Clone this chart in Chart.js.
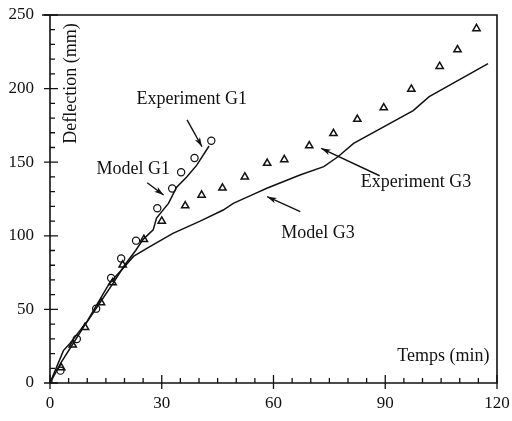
<!DOCTYPE html>
<html>
<head>
<meta charset="utf-8">
<script src="https://cdn.jsdelivr.net/npm/chart.js@4.4.1/dist/chart.umd.min.js"></script>
<style>
  html, body { margin: 0; padding: 0; background: #fff; }
  #wrap { width: 512px; height: 421px; }
</style>
</head>
<body>
<div id="wrap"><canvas id="deflChart"></canvas></div>
<script>
// time in minutes, deflection in mm
var expG1Time = [2.8, 7.2, 12.4, 16.4, 19.1, 23.1, 28.8, 32.8, 35.2, 38.8, 43.3];
var expG1Defl = [8.4, 29.9, 50.5, 71.3, 84.6, 96.7, 118.7, 132.1, 143.2, 152.9, 164.6];

var expG3Time = [3.0, 6.1, 9.4, 13.7, 16.8, 19.5, 25.2, 30.0, 36.3, 40.7, 46.3, 52.3, 58.3, 62.9, 69.6, 76.1, 82.5, 89.6, 97.0, 104.6, 109.4, 114.5];
var expG3Defl = [10.4, 25.8, 37.8, 54.6, 68.1, 80.2, 97.6, 110.0, 120.4, 127.7, 132.5, 140.0, 149.3, 151.8, 161.2, 169.5, 179.2, 187.0, 199.6, 215.1, 226.4, 240.8];

var modelG1Time = [0, 3, 6, 9, 13, 17, 20, 23, 25, 27.7, 28.6, 31.8, 34, 36.7, 39.4, 42.7];
var modelG1Defl = [0, 14, 26, 38, 53, 68, 80, 90, 97.6, 104, 112, 122, 133, 140, 148, 161];

var modelG3Time = [0, 3.6, 5.4, 10, 16, 20, 22.4, 26, 33, 40.3, 46.5, 49.2, 55.3, 58.2, 67.1, 73.5, 77.3, 81.5, 97.5, 101.8, 117.6];
var modelG3Defl = [0, 22, 27, 42, 68, 79, 86, 91.5, 101.7, 110, 117.5, 122, 129, 132.3, 141.3, 147, 153.7, 162.8, 185, 194.5, 217];

var xTickLabels = [0, 30, 60, 90, 120];
var yTickLabels = [0, 50, 100, 150, 200, 250];

var serif = "'Liberation Serif', 'Times New Roman', serif";

function toPoints(xs, ys) {
    return xs.map(function (x, i) { return { x: x, y: ys[i] }; });
}

// text + arrows, placed in data units
var notes = [
    { text: 'Experiment G1', x: 23.2, y: 193, align: 'left' },
    { text: 'Model G1', x: 12.5, y: 145.4, align: 'left' },
    { text: 'Experiment G3', x: 83.4, y: 136.3, align: 'left' },
    { text: 'Model G3', x: 62.1, y: 101.7, align: 'left' },
    { text: 'Temps (min)', x: 118, y: 18.5, align: 'right' }
];
var arrows = [
    { x1: 36.8, y1: 178.7, x2: 40.8, y2: 160.5 },
    { x1: 26.1, y1: 136, x2: 30.5, y2: 127.7 },
    { x1: 88.5, y1: 140.8, x2: 72.8, y2: 159.4 },
    { x1: 67.2, y1: 116.4, x2: 58.3, y2: 126.6 }
];

function noOverhang(s) {
    s.paddingLeft = 0; s.paddingRight = 0;
    s.paddingTop = 0; s.paddingBottom = 0;
}

var framePlugin = {
    id: 'frame',
    afterDraw: function (chart) {
        var ctx = chart.ctx;
        var xs = chart.scales.x, ys = chart.scales.y;
        var a = chart.chartArea;
        ctx.save();
        ctx.strokeStyle = '#111';
        // box
        ctx.lineWidth = 1.6;
        ctx.beginPath();
        ctx.moveTo(a.left, a.bottom);
        ctx.lineTo(a.right, a.bottom);
        ctx.lineTo(a.right, a.top);
        ctx.lineTo(a.left - 8, a.top);
        ctx.moveTo(a.left, a.top);
        ctx.lineTo(a.left, a.bottom);
        ctx.stroke();
        // inward ticks
        ctx.lineWidth = 1.3;
        ctx.beginPath();
        xs.ticks.forEach(function (t) {
            var px = xs.getPixelForValue(t.value);
            var major = xTickLabels.indexOf(t.value) >= 0;
            ctx.moveTo(px, a.bottom + (major ? 6 : 0));
            ctx.lineTo(px, a.bottom - (major ? 8 : 5));
        });
        ys.ticks.forEach(function (t) {
            var py = ys.getPixelForValue(t.value);
            var major = yTickLabels.indexOf(t.value) >= 0;
            ctx.moveTo(a.left - (major ? 6 : 0), py);
            ctx.lineTo(a.left + (major ? 8 : 5), py);
        });
        ctx.stroke();

        // notes
        ctx.fillStyle = '#111';
        ctx.font = '18px ' + serif;
        ctx.textBaseline = 'middle';
        notes.forEach(function (n) {
            ctx.textAlign = n.align;
            ctx.fillText(n.text, xs.getPixelForValue(n.x), ys.getPixelForValue(n.y));
        });
        // axis title (vertical)
        ctx.save();
        ctx.translate(xs.getPixelForValue(5.8), ys.getPixelForValue(203.5));
        ctx.rotate(-Math.PI / 2);
        ctx.textAlign = 'center';
        ctx.fillText('Deflection (mm)', 0, 0);
        ctx.restore();

        // arrows
        ctx.lineWidth = 1.4;
        arrows.forEach(function (r) {
            var x1 = xs.getPixelForValue(r.x1), y1 = ys.getPixelForValue(r.y1);
            var x2 = xs.getPixelForValue(r.x2), y2 = ys.getPixelForValue(r.y2);
            var ang = Math.atan2(y2 - y1, x2 - x1);
            ctx.beginPath();
            ctx.moveTo(x1, y1);
            ctx.lineTo(x2, y2);
            ctx.stroke();
            ctx.beginPath();
            ctx.moveTo(x2, y2);
            ctx.lineTo(x2 - 10 * Math.cos(ang - 0.3), y2 - 10 * Math.sin(ang - 0.3));
            ctx.lineTo(x2 - 7 * Math.cos(ang), y2 - 7 * Math.sin(ang));
            ctx.lineTo(x2 - 10 * Math.cos(ang + 0.3), y2 - 10 * Math.sin(ang + 0.3));
            ctx.closePath();
            ctx.fill();
        });
        ctx.restore();
    }
};

var ctx = document.getElementById('deflChart').getContext('2d');
var deflChart = new Chart(ctx, {
    type: 'scatter',
    data: {
        datasets: [
            {
                label: 'Model G1',
                data: toPoints(modelG1Time, modelG1Defl),
                showLine: true,
                borderColor: '#111',
                borderWidth: 1.5,
                pointRadius: 0,
                tension: 0
            },
            {
                label: 'Model G3',
                data: toPoints(modelG3Time, modelG3Defl),
                showLine: true,
                borderColor: '#111',
                borderWidth: 1.5,
                pointRadius: 0,
                tension: 0
            },
            {
                label: 'Experiment G1',
                data: toPoints(expG1Time, expG1Defl),
                pointStyle: 'circle',
                pointRadius: 3.6,
                borderColor: '#111',
                borderWidth: 1.2,
                backgroundColor: 'rgba(0,0,0,0)'
            },
            {
                label: 'Experiment G3',
                data: toPoints(expG3Time, expG3Defl),
                pointStyle: 'triangle',
                pointRadius: 4.2,
                borderColor: '#111',
                borderWidth: 1.5,
                backgroundColor: 'rgba(0,0,0,0)'
            },
            {
                label: 'origin',
                data: [{ x: 0, y: 0 }],
                pointStyle: 'rect',
                pointRadius: 3.5,
                borderColor: '#777',
                borderWidth: 1,
                backgroundColor: '#999'
            }
        ]
    },
    options: {
        responsive: true,
        maintainAspectRatio: false,
        animation: false,
        layout: { padding: { top: 15, right: 15, left: 0, bottom: 0 } },
        plugins: { legend: { display: false }, tooltip: { enabled: false } },
        scales: {
            x: {
                type: 'linear',
                min: 0, max: 120,
                afterFit: function (s) { s.height = 38; noOverhang(s); },
                border: { display: false },
                grid: { display: false, drawTicks: false },
                ticks: {
                    stepSize: 5,
                    autoSkip: false,
                    maxRotation: 0,
                    padding: 10,
                    color: '#111',
                    font: { family: serif, size: 17 },
                    callback: function (v) { return xTickLabels.indexOf(v) >= 0 ? String(v) : ''; }
                }
            },
            y: {
                type: 'linear',
                min: 0, max: 250,
                afterFit: function (s) { s.width = 50; noOverhang(s); },
                border: { display: false },
                grid: { display: false, drawTicks: false },
                ticks: {
                    stepSize: 10,
                    autoSkip: false,
                    padding: 16,
                    color: '#111',
                    font: { family: serif, size: 17 },
                    callback: function (v) { return yTickLabels.indexOf(v) >= 0 ? String(v) : ''; }
                }
            }
        }
    },
    plugins: [framePlugin]
});
</script>
</body>
</html>
